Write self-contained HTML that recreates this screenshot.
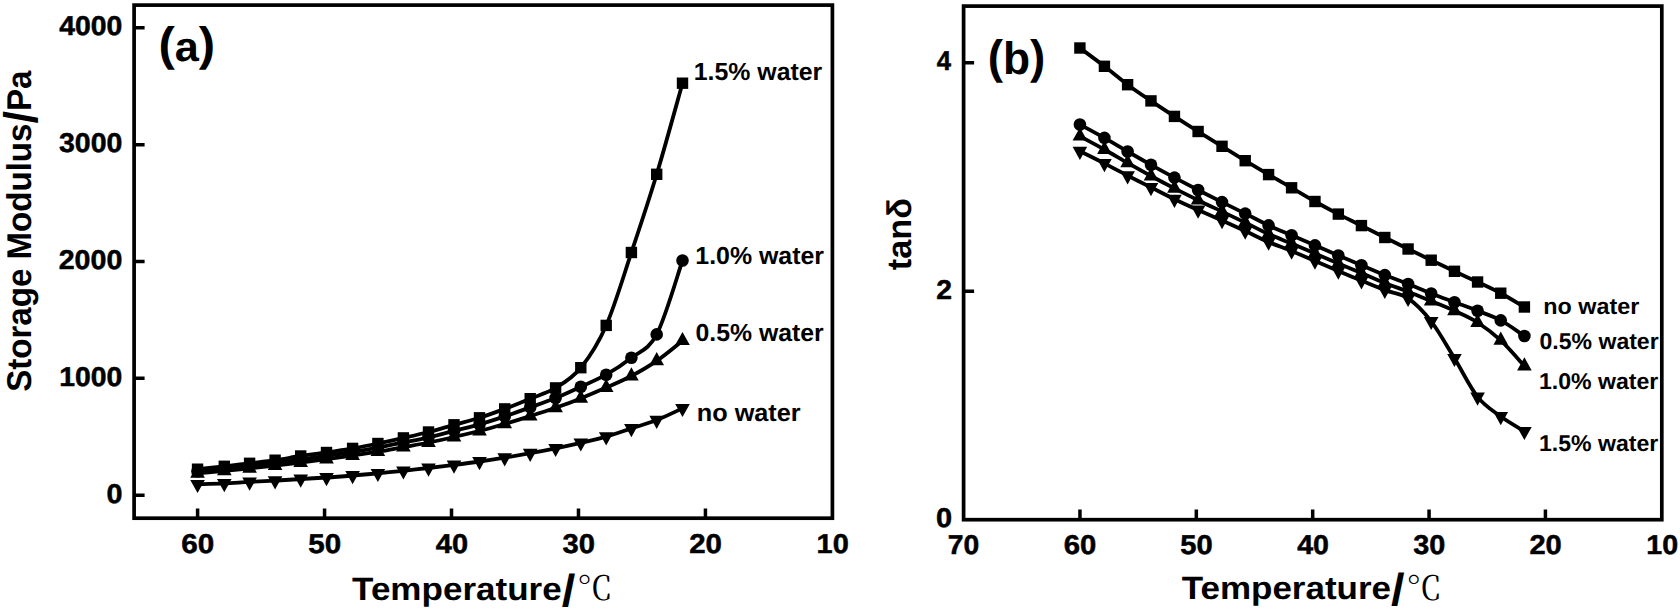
<!DOCTYPE html>
<html lang="en"><head><meta charset="utf-8"><title>Storage modulus and tan delta versus temperature</title>
<style>html,body{margin:0;padding:0;background:#fff}body{width:1680px;height:611px;overflow:hidden}svg{display:block}text{fill:#000;text-rendering:geometricPrecision}.fr{fill:none;stroke:#000;stroke-width:3.7}.tk{stroke:#000;stroke-width:3.5;fill:none}.s path.ln{fill:none;stroke:#000;stroke-width:3.8;stroke-linejoin:round;stroke-linecap:round}.s rect,.s circle,.s path{fill:#000}</style></head><body>
<svg width="1680" height="611" viewBox="0 0 1680 611" role="img" aria-label="Storage modulus and tan delta versus temperature">
<rect width="1680" height="611" fill="#fff"/>
<rect class="fr" x="134.1" y="5.1" width="698.3" height="513.1"/>
<rect class="fr" x="963.6" y="6.1" width="698.2" height="513.6"/>
<path class="tk" d="M134.1 495.2H144.6M134.1 378.35H144.6M134.1 261.5H144.6M134.1 144.65H144.6M134.1 27.8H144.6M197.6 518.2V508.4M324.56 518.2V508.4M451.52 518.2V508.4M578.48 518.2V508.4M705.44 518.2V508.4M963.6 291.25H974.1M963.6 62.8H974.1M1079.95 519.7V509.5M1196.32 519.7V509.5M1312.69 519.7V509.5M1429.06 519.7V509.5M1545.43 519.7V509.5"/>
<g class="s">
<g class="a1">
<path class="ln" d="M197.55 469.2C202.01 468.72 215.62 467.28 224.3 466.3C232.98 465.32 241.13 464.32 249.6 463.3C258.07 462.28 266.58 461.42 275.1 460.2C283.62 458.98 292.13 457.28 300.7 456C309.27 454.72 317.85 453.77 326.5 452.5C335.15 451.23 344.03 449.9 352.6 448.4C361.17 446.9 369.43 445.25 377.9 443.5C386.37 441.75 394.97 439.82 403.4 437.9C411.83 435.98 420.07 434.18 428.5 432C436.93 429.82 445.5 427.17 454 424.8C462.5 422.43 471.05 420.45 479.5 417.8C487.95 415.15 496.25 412.08 504.7 408.9C513.15 405.72 521.72 402.2 530.2 398.7C538.68 395.2 547.17 393.07 555.6 387.9C564.03 382.73 572.37 378.12 580.8 367.7C589.23 357.28 597.77 344.6 606.2 325.4C614.63 306.2 622.98 277.68 631.4 252.5C639.82 227.32 648.18 202.52 656.7 174.3C665.22 146.08 678.2 98.38 682.5 83.2"/>
<rect x="191.85" y="463.5" width="11.4" height="11.4"/>
<rect x="218.6" y="460.6" width="11.4" height="11.4"/>
<rect x="243.9" y="457.6" width="11.4" height="11.4"/>
<rect x="269.4" y="454.5" width="11.4" height="11.4"/>
<rect x="295" y="450.3" width="11.4" height="11.4"/>
<rect x="320.8" y="446.8" width="11.4" height="11.4"/>
<rect x="346.9" y="442.7" width="11.4" height="11.4"/>
<rect x="372.2" y="437.8" width="11.4" height="11.4"/>
<rect x="397.7" y="432.2" width="11.4" height="11.4"/>
<rect x="422.8" y="426.3" width="11.4" height="11.4"/>
<rect x="448.3" y="419.1" width="11.4" height="11.4"/>
<rect x="473.8" y="412.1" width="11.4" height="11.4"/>
<rect x="499" y="403.2" width="11.4" height="11.4"/>
<rect x="524.5" y="393" width="11.4" height="11.4"/>
<rect x="549.9" y="382.2" width="11.4" height="11.4"/>
<rect x="575.1" y="362" width="11.4" height="11.4"/>
<rect x="600.5" y="319.7" width="11.4" height="11.4"/>
<rect x="625.7" y="246.8" width="11.4" height="11.4"/>
<rect x="651" y="168.6" width="11.4" height="11.4"/>
<rect x="676.8" y="77.5" width="11.4" height="11.4"/>
</g>
<g class="a2">
<path class="ln" d="M197.55 471.2C202.01 470.77 215.62 469.48 224.3 468.6C232.98 467.72 241.13 466.85 249.6 465.9C258.07 464.95 266.58 464 275.1 462.9C283.62 461.8 292.13 460.48 300.7 459.3C309.27 458.12 317.85 457.02 326.5 455.8C335.15 454.58 344.03 453.37 352.6 452C361.17 450.63 369.43 449.18 377.9 447.6C386.37 446.02 394.97 444.22 403.4 442.5C411.83 440.78 420.07 439.23 428.5 437.3C436.93 435.37 445.5 433.05 454 430.9C462.5 428.75 471.05 426.82 479.5 424.4C487.95 421.98 496.25 419.23 504.7 416.4C513.15 413.57 521.72 410.47 530.2 407.4C538.68 404.33 547.17 401.45 555.6 398C564.03 394.55 572.37 390.58 580.8 386.7C589.23 382.82 597.77 379.52 606.2 374.7C614.63 369.88 622.98 364.52 631.4 357.8C639.82 351.08 648.18 350.62 656.7 334.4C665.22 318.18 678.2 272.82 682.5 260.5"/>
<circle cx="197.55" cy="471.2" r="6.3"/>
<circle cx="224.3" cy="468.6" r="6.3"/>
<circle cx="249.6" cy="465.9" r="6.3"/>
<circle cx="275.1" cy="462.9" r="6.3"/>
<circle cx="300.7" cy="459.3" r="6.3"/>
<circle cx="326.5" cy="455.8" r="6.3"/>
<circle cx="352.6" cy="452" r="6.3"/>
<circle cx="377.9" cy="447.6" r="6.3"/>
<circle cx="403.4" cy="442.5" r="6.3"/>
<circle cx="428.5" cy="437.3" r="6.3"/>
<circle cx="454" cy="430.9" r="6.3"/>
<circle cx="479.5" cy="424.4" r="6.3"/>
<circle cx="504.7" cy="416.4" r="6.3"/>
<circle cx="530.2" cy="407.4" r="6.3"/>
<circle cx="555.6" cy="398" r="6.3"/>
<circle cx="580.8" cy="386.7" r="6.3"/>
<circle cx="606.2" cy="374.7" r="6.3"/>
<circle cx="631.4" cy="357.8" r="6.3"/>
<circle cx="656.7" cy="334.4" r="6.3"/>
<circle cx="682.5" cy="260.5" r="6.3"/>
</g>
<g class="a3">
<path class="ln" d="M197.55 473.3C202.01 472.9 215.62 471.72 224.3 470.9C232.98 470.08 241.13 469.3 249.6 468.4C258.07 467.5 266.58 466.48 275.1 465.5C283.62 464.52 292.13 463.57 300.7 462.5C309.27 461.43 317.85 460.27 326.5 459.1C335.15 457.93 344.03 456.73 352.6 455.5C361.17 454.27 369.43 453.1 377.9 451.7C386.37 450.3 394.97 448.63 403.4 447.1C411.83 445.57 420.07 444.18 428.5 442.5C436.93 440.82 445.5 438.92 454 437C462.5 435.08 471.05 433.18 479.5 431C487.95 428.82 496.25 426.38 504.7 423.9C513.15 421.42 521.72 418.78 530.2 416.1C538.68 413.42 547.17 410.75 555.6 407.8C564.03 404.85 572.37 401.77 580.8 398.4C589.23 395.03 597.77 391.33 606.2 387.6C614.63 383.87 622.98 380.45 631.4 376C639.82 371.55 648.18 366.78 656.7 360.9C665.22 355.02 678.2 344.07 682.5 340.7"/>
<path d="M190.25 477.7L204.85 477.7L197.55 464.5Z"/>
<path d="M217 475.3L231.6 475.3L224.3 462.1Z"/>
<path d="M242.3 472.8L256.9 472.8L249.6 459.6Z"/>
<path d="M267.8 469.9L282.4 469.9L275.1 456.7Z"/>
<path d="M293.4 466.9L308 466.9L300.7 453.7Z"/>
<path d="M319.2 463.5L333.8 463.5L326.5 450.3Z"/>
<path d="M345.3 459.9L359.9 459.9L352.6 446.7Z"/>
<path d="M370.6 456.1L385.2 456.1L377.9 442.9Z"/>
<path d="M396.1 451.5L410.7 451.5L403.4 438.3Z"/>
<path d="M421.2 446.9L435.8 446.9L428.5 433.7Z"/>
<path d="M446.7 441.4L461.3 441.4L454 428.2Z"/>
<path d="M472.2 435.4L486.8 435.4L479.5 422.2Z"/>
<path d="M497.4 428.3L512 428.3L504.7 415.1Z"/>
<path d="M522.9 420.5L537.5 420.5L530.2 407.3Z"/>
<path d="M548.3 412.2L562.9 412.2L555.6 399Z"/>
<path d="M573.5 402.8L588.1 402.8L580.8 389.6Z"/>
<path d="M598.9 392L613.5 392L606.2 378.8Z"/>
<path d="M624.1 380.4L638.7 380.4L631.4 367.2Z"/>
<path d="M649.4 365.3L664 365.3L656.7 352.1Z"/>
<path d="M675.2 345.1L689.8 345.1L682.5 331.9Z"/>
</g>
<g class="a4">
<path class="ln" d="M197.55 484.3C202.01 484.15 215.62 483.8 224.3 483.4C232.98 483 241.13 482.35 249.6 481.9C258.07 481.45 266.58 481.18 275.1 480.7C283.62 480.22 292.13 479.53 300.7 479C309.27 478.47 317.85 478.08 326.5 477.5C335.15 476.92 344.03 476.2 352.6 475.5C361.17 474.8 369.43 474.08 377.9 473.3C386.37 472.52 394.97 471.68 403.4 470.8C411.83 469.92 420.07 468.98 428.5 468C436.93 467.02 445.5 465.98 454 464.9C462.5 463.82 471.05 462.72 479.5 461.5C487.95 460.28 496.25 458.98 504.7 457.6C513.15 456.22 521.72 454.75 530.2 453.2C538.68 451.65 547.17 450.03 555.6 448.3C564.03 446.57 572.37 444.73 580.8 442.8C589.23 440.87 597.77 439.1 606.2 436.7C614.63 434.3 622.98 431.17 631.4 428.4C639.82 425.63 648.18 423.45 656.7 420.1C665.22 416.75 678.2 410.27 682.5 408.3"/>
<path d="M190.25 479.9L204.85 479.9L197.55 493.1Z"/>
<path d="M217 479L231.6 479L224.3 492.2Z"/>
<path d="M242.3 477.5L256.9 477.5L249.6 490.7Z"/>
<path d="M267.8 476.3L282.4 476.3L275.1 489.5Z"/>
<path d="M293.4 474.6L308 474.6L300.7 487.8Z"/>
<path d="M319.2 473.1L333.8 473.1L326.5 486.3Z"/>
<path d="M345.3 471.1L359.9 471.1L352.6 484.3Z"/>
<path d="M370.6 468.9L385.2 468.9L377.9 482.1Z"/>
<path d="M396.1 466.4L410.7 466.4L403.4 479.6Z"/>
<path d="M421.2 463.6L435.8 463.6L428.5 476.8Z"/>
<path d="M446.7 460.5L461.3 460.5L454 473.7Z"/>
<path d="M472.2 457.1L486.8 457.1L479.5 470.3Z"/>
<path d="M497.4 453.2L512 453.2L504.7 466.4Z"/>
<path d="M522.9 448.8L537.5 448.8L530.2 462Z"/>
<path d="M548.3 443.9L562.9 443.9L555.6 457.1Z"/>
<path d="M573.5 438.4L588.1 438.4L580.8 451.6Z"/>
<path d="M598.9 432.3L613.5 432.3L606.2 445.5Z"/>
<path d="M624.1 424L638.7 424L631.4 437.2Z"/>
<path d="M649.4 415.7L664 415.7L656.7 428.9Z"/>
<path d="M675.2 403.9L689.8 403.9L682.5 417.1Z"/>
</g>
<g class="b1">
<path class="ln" d="M1079.9 48C1083.99 51.05 1096.47 60.18 1104.42 66.3C1112.37 72.42 1119.85 78.93 1127.61 84.7C1135.37 90.47 1143.18 95.62 1150.98 100.9C1158.79 106.18 1166.6 111.3 1174.45 116.4C1182.3 121.5 1190.17 126.52 1198.1 131.5C1206.03 136.48 1214.17 141.43 1222.02 146.3C1229.87 151.17 1237.45 155.98 1245.21 160.7C1252.97 165.42 1260.85 170.08 1268.58 174.6C1276.31 179.12 1283.86 183.32 1291.59 187.8C1299.32 192.28 1307.17 197.12 1314.96 201.5C1322.75 205.88 1330.59 210.08 1338.34 214.1C1346.08 218.12 1353.69 221.7 1361.43 225.6C1369.18 229.5 1377.03 233.6 1384.81 237.5C1392.58 241.4 1400.36 245.22 1408.09 249C1415.82 252.78 1423.46 256.48 1431.19 260.2C1438.92 263.92 1446.74 267.67 1454.47 271.3C1462.2 274.93 1469.85 278.35 1477.57 282C1485.28 285.65 1492.95 289.03 1500.76 293.2C1508.56 297.37 1520.46 304.7 1524.4 307"/>
<rect x="1074.2" y="42.3" width="11.4" height="11.4"/>
<rect x="1098.72" y="60.6" width="11.4" height="11.4"/>
<rect x="1121.91" y="79" width="11.4" height="11.4"/>
<rect x="1145.28" y="95.2" width="11.4" height="11.4"/>
<rect x="1168.75" y="110.7" width="11.4" height="11.4"/>
<rect x="1192.4" y="125.8" width="11.4" height="11.4"/>
<rect x="1216.32" y="140.6" width="11.4" height="11.4"/>
<rect x="1239.51" y="155" width="11.4" height="11.4"/>
<rect x="1262.88" y="168.9" width="11.4" height="11.4"/>
<rect x="1285.89" y="182.1" width="11.4" height="11.4"/>
<rect x="1309.26" y="195.8" width="11.4" height="11.4"/>
<rect x="1332.64" y="208.4" width="11.4" height="11.4"/>
<rect x="1355.73" y="219.9" width="11.4" height="11.4"/>
<rect x="1379.11" y="231.8" width="11.4" height="11.4"/>
<rect x="1402.39" y="243.3" width="11.4" height="11.4"/>
<rect x="1425.49" y="254.5" width="11.4" height="11.4"/>
<rect x="1448.77" y="265.6" width="11.4" height="11.4"/>
<rect x="1471.87" y="276.3" width="11.4" height="11.4"/>
<rect x="1495.06" y="287.5" width="11.4" height="11.4"/>
<rect x="1518.7" y="301.3" width="11.4" height="11.4"/>
</g>
<g class="b2">
<path class="ln" d="M1079.9 124.5C1083.99 126.73 1096.47 133.4 1104.42 137.9C1112.37 142.4 1119.85 147.02 1127.61 151.5C1135.37 155.98 1143.18 160.45 1150.98 164.8C1158.79 169.15 1166.6 173.4 1174.45 177.6C1182.3 181.8 1190.17 185.92 1198.1 190C1206.03 194.08 1214.17 198.17 1222.02 202.1C1229.87 206.03 1237.45 209.72 1245.21 213.6C1252.97 217.48 1260.85 221.78 1268.58 225.4C1276.31 229.02 1283.86 231.97 1291.59 235.3C1299.32 238.63 1307.17 242.03 1314.96 245.4C1322.75 248.77 1330.59 252.2 1338.34 255.5C1346.08 258.8 1353.69 261.93 1361.43 265.2C1369.18 268.47 1377.03 271.97 1384.81 275.1C1392.58 278.23 1400.36 280.93 1408.09 284C1415.82 287.07 1423.46 290.47 1431.19 293.5C1438.92 296.53 1446.74 299.32 1454.47 302.2C1462.2 305.08 1469.85 307.77 1477.57 310.8C1485.28 313.83 1492.95 316.2 1500.76 320.4C1508.56 324.6 1520.46 333.4 1524.4 336"/>
<circle cx="1079.9" cy="124.5" r="6.3"/>
<circle cx="1104.42" cy="137.9" r="6.3"/>
<circle cx="1127.61" cy="151.5" r="6.3"/>
<circle cx="1150.98" cy="164.8" r="6.3"/>
<circle cx="1174.45" cy="177.6" r="6.3"/>
<circle cx="1198.1" cy="190" r="6.3"/>
<circle cx="1222.02" cy="202.1" r="6.3"/>
<circle cx="1245.21" cy="213.6" r="6.3"/>
<circle cx="1268.58" cy="225.4" r="6.3"/>
<circle cx="1291.59" cy="235.3" r="6.3"/>
<circle cx="1314.96" cy="245.4" r="6.3"/>
<circle cx="1338.34" cy="255.5" r="6.3"/>
<circle cx="1361.43" cy="265.2" r="6.3"/>
<circle cx="1384.81" cy="275.1" r="6.3"/>
<circle cx="1408.09" cy="284" r="6.3"/>
<circle cx="1431.19" cy="293.5" r="6.3"/>
<circle cx="1454.47" cy="302.2" r="6.3"/>
<circle cx="1477.57" cy="310.8" r="6.3"/>
<circle cx="1500.76" cy="320.4" r="6.3"/>
<circle cx="1524.4" cy="336" r="6.3"/>
</g>
<g class="b3">
<path class="ln" d="M1079.9 136.2C1083.99 138.42 1096.47 145.05 1104.42 149.5C1112.37 153.95 1119.85 158.48 1127.61 162.9C1135.37 167.32 1143.18 171.75 1150.98 176C1158.79 180.25 1166.6 184.37 1174.45 188.4C1182.3 192.43 1190.17 196.33 1198.1 200.2C1206.03 204.07 1214.17 207.87 1222.02 211.6C1229.87 215.33 1237.45 218.87 1245.21 222.6C1252.97 226.33 1260.85 230.5 1268.58 234C1276.31 237.5 1283.86 240.35 1291.59 243.6C1299.32 246.85 1307.17 250.18 1314.96 253.5C1322.75 256.82 1330.59 260.23 1338.34 263.5C1346.08 266.77 1353.69 269.87 1361.43 273.1C1369.18 276.33 1377.03 279.8 1384.81 282.9C1392.58 286 1400.36 288.67 1408.09 291.7C1415.82 294.73 1423.46 297.92 1431.19 301.1C1438.92 304.28 1446.74 307.23 1454.47 310.8C1462.2 314.37 1469.85 317.57 1477.57 322.5C1485.28 327.43 1492.95 333.15 1500.76 340.4C1508.56 347.65 1520.46 361.73 1524.4 366"/>
<path d="M1072.6 140.6L1087.2 140.6L1079.9 127.4Z"/>
<path d="M1097.12 153.9L1111.72 153.9L1104.42 140.7Z"/>
<path d="M1120.31 167.3L1134.91 167.3L1127.61 154.1Z"/>
<path d="M1143.68 180.4L1158.28 180.4L1150.98 167.2Z"/>
<path d="M1167.15 192.8L1181.75 192.8L1174.45 179.6Z"/>
<path d="M1190.8 204.6L1205.4 204.6L1198.1 191.4Z"/>
<path d="M1214.72 216L1229.32 216L1222.02 202.8Z"/>
<path d="M1237.91 227L1252.51 227L1245.21 213.8Z"/>
<path d="M1261.28 238.4L1275.88 238.4L1268.58 225.2Z"/>
<path d="M1284.29 248L1298.89 248L1291.59 234.8Z"/>
<path d="M1307.66 257.9L1322.26 257.9L1314.96 244.7Z"/>
<path d="M1331.04 267.9L1345.64 267.9L1338.34 254.7Z"/>
<path d="M1354.13 277.5L1368.73 277.5L1361.43 264.3Z"/>
<path d="M1377.51 287.3L1392.11 287.3L1384.81 274.1Z"/>
<path d="M1400.79 296.1L1415.39 296.1L1408.09 282.9Z"/>
<path d="M1423.89 305.5L1438.49 305.5L1431.19 292.3Z"/>
<path d="M1447.17 315.2L1461.77 315.2L1454.47 302Z"/>
<path d="M1470.27 326.9L1484.87 326.9L1477.57 313.7Z"/>
<path d="M1493.46 344.8L1508.06 344.8L1500.76 331.6Z"/>
<path d="M1517.1 370.4L1531.7 370.4L1524.4 357.2Z"/>
</g>
<g class="b4">
<path class="ln" d="M1079.9 151.2C1083.99 153.23 1096.47 159.33 1104.42 163.4C1112.37 167.47 1119.85 171.6 1127.61 175.6C1135.37 179.6 1143.18 183.47 1150.98 187.4C1158.79 191.33 1166.6 195.43 1174.45 199.2C1182.3 202.97 1190.17 206.45 1198.1 210C1206.03 213.55 1214.17 217 1222.02 220.5C1229.87 224 1237.45 227.42 1245.21 231C1252.97 234.58 1260.85 238.67 1268.58 242C1276.31 245.33 1283.86 247.83 1291.59 251C1299.32 254.17 1307.17 257.67 1314.96 261C1322.75 264.33 1330.59 267.73 1338.34 271C1346.08 274.27 1353.69 277.42 1361.43 280.6C1369.18 283.78 1377.03 287.15 1384.81 290.1C1392.58 293.05 1400.36 293.1 1408.09 298.3C1415.82 303.5 1423.46 311.3 1431.19 321.3C1438.92 331.3 1446.74 345.7 1454.47 358.3C1462.2 370.9 1469.85 387.2 1477.57 396.9C1485.28 406.6 1492.95 410.77 1500.76 416.5C1508.56 422.23 1520.46 428.83 1524.4 431.3"/>
<path d="M1072.6 146.8L1087.2 146.8L1079.9 160Z"/>
<path d="M1097.12 159L1111.72 159L1104.42 172.2Z"/>
<path d="M1120.31 171.2L1134.91 171.2L1127.61 184.4Z"/>
<path d="M1143.68 183L1158.28 183L1150.98 196.2Z"/>
<path d="M1167.15 194.8L1181.75 194.8L1174.45 208Z"/>
<path d="M1190.8 205.6L1205.4 205.6L1198.1 218.8Z"/>
<path d="M1214.72 216.1L1229.32 216.1L1222.02 229.3Z"/>
<path d="M1237.91 226.6L1252.51 226.6L1245.21 239.8Z"/>
<path d="M1261.28 237.6L1275.88 237.6L1268.58 250.8Z"/>
<path d="M1284.29 246.6L1298.89 246.6L1291.59 259.8Z"/>
<path d="M1307.66 256.6L1322.26 256.6L1314.96 269.8Z"/>
<path d="M1331.04 266.6L1345.64 266.6L1338.34 279.8Z"/>
<path d="M1354.13 276.2L1368.73 276.2L1361.43 289.4Z"/>
<path d="M1377.51 285.7L1392.11 285.7L1384.81 298.9Z"/>
<path d="M1400.79 293.9L1415.39 293.9L1408.09 307.1Z"/>
<path d="M1423.89 316.9L1438.49 316.9L1431.19 330.1Z"/>
<path d="M1447.17 353.9L1461.77 353.9L1454.47 367.1Z"/>
<path d="M1470.27 392.5L1484.87 392.5L1477.57 405.7Z"/>
<path d="M1493.46 412.1L1508.06 412.1L1500.76 425.3Z"/>
<path d="M1517.1 426.9L1531.7 426.9L1524.4 440.1Z"/>
</g>
</g>
<text id="ly0" transform="translate(106.5 502.8) scale(1.0591 1)" style="font-family:'Liberation Sans', sans-serif;font-weight:bold;font-size:27.1px;stroke:#000;stroke-width:0.5;stroke-linejoin:round">0</text>
<text id="ly1000" transform="translate(59.29 385.95) scale(1.0455 1)" style="font-family:'Liberation Sans', sans-serif;font-weight:bold;font-size:27.1px;stroke:#000;stroke-width:0.5;stroke-linejoin:round">1000</text>
<text id="ly2000" transform="translate(58.72 269.1) scale(1.0551 1)" style="font-family:'Liberation Sans', sans-serif;font-weight:bold;font-size:27.1px;stroke:#000;stroke-width:0.5;stroke-linejoin:round">2000</text>
<text id="ly3000" transform="translate(58.99 152.25) scale(1.0504 1)" style="font-family:'Liberation Sans', sans-serif;font-weight:bold;font-size:27.1px;stroke:#000;stroke-width:0.5;stroke-linejoin:round">3000</text>
<text id="ly4000" transform="translate(59.22 35.4) scale(1.0467 1)" style="font-family:'Liberation Sans', sans-serif;font-weight:bold;font-size:27.1px;stroke:#000;stroke-width:0.5;stroke-linejoin:round">4000</text>
<text id="lx60" transform="translate(181.21 553.1) scale(1.0934 1)" style="font-family:'Liberation Sans', sans-serif;font-weight:bold;font-size:27.1px;stroke:#000;stroke-width:0.5;stroke-linejoin:round">60</text>
<text id="lx50" transform="translate(308.28 553.1) scale(1.0896 1)" style="font-family:'Liberation Sans', sans-serif;font-weight:bold;font-size:27.1px;stroke:#000;stroke-width:0.5;stroke-linejoin:round">50</text>
<text id="lx40" transform="translate(435.83 553.1) scale(1.0694 1)" style="font-family:'Liberation Sans', sans-serif;font-weight:bold;font-size:27.1px;stroke:#000;stroke-width:0.5;stroke-linejoin:round">40</text>
<text id="lx30" transform="translate(562.56 553.1) scale(1.0773 1)" style="font-family:'Liberation Sans', sans-serif;font-weight:bold;font-size:27.1px;stroke:#000;stroke-width:0.5;stroke-linejoin:round">30</text>
<text id="lx20" transform="translate(689.24 553.1) scale(1.0870 1)" style="font-family:'Liberation Sans', sans-serif;font-weight:bold;font-size:27.1px;stroke:#000;stroke-width:0.5;stroke-linejoin:round">20</text>
<text id="lx10" transform="translate(816.56 553.1) scale(1.0679 1)" style="font-family:'Liberation Sans', sans-serif;font-weight:bold;font-size:27.1px;stroke:#000;stroke-width:0.5;stroke-linejoin:round">10</text>
<text id="lxl" transform="translate(352.09 599.6) scale(1.0883 1)" style="font-family:'Liberation Sans', sans-serif;font-weight:bold;font-size:32.2px">Temperature<tspan font-size="45" dy="6">/</tspan><tspan dy="-5.8" dx="1.5" font-size="33" style="font-family:&quot;Liberation Serif&quot;,&quot;Noto Serif CJK SC&quot;,serif;font-weight:normal">℃</tspan></text>
<text id="la" transform="translate(158.42 61) scale(1.0434 1)" style="font-family:'Liberation Sans', sans-serif;font-weight:bold;font-size:46px"><tspan font-size="47" dy="-1.2">(</tspan><tspan font-size="41.5" dy="1.2">a</tspan><tspan font-size="47" dy="-1.2">)</tspan></text>
<text id="ll1" transform="translate(693.73 80.2) scale(1.0109 1)" style="font-family:'Liberation Sans', sans-serif;font-weight:bold;font-size:24.6px">1.5% water</text>
<text id="ll2" transform="translate(695.33 263.9) scale(1.0125 1)" style="font-family:'Liberation Sans', sans-serif;font-weight:bold;font-size:24.6px">1.0% water</text>
<text id="ll3" transform="translate(695.51 340.7) scale(1.0079 1)" style="font-family:'Liberation Sans', sans-serif;font-weight:bold;font-size:24.6px">0.5% water</text>
<text id="ll4" transform="translate(696.79 420.7) scale(1.0270 1)" style="font-family:'Liberation Sans', sans-serif;font-weight:bold;font-size:24.6px">no water</text>
<text id="lyl" transform="rotate(-90) translate(-391.77 31.1) scale(0.9615 1)" style="font-family:'Liberation Sans', sans-serif;font-weight:bold;font-size:34.4px">Storage Modulus<tspan font-size="47" dy="5.4">/</tspan><tspan dy="-5.4">Pa</tspan></text>
<text id="ry0" transform="translate(936.09 527.2) scale(1.0666 1)" style="font-family:'Liberation Sans', sans-serif;font-weight:bold;font-size:27.1px;stroke:#000;stroke-width:0.5;stroke-linejoin:round">0</text>
<text id="ry2" transform="translate(936.32 298.75) scale(1.0450 1)" style="font-family:'Liberation Sans', sans-serif;font-weight:bold;font-size:27.1px;stroke:#000;stroke-width:0.5;stroke-linejoin:round">2</text>
<text id="ry4" transform="translate(936.83 70.3) scale(0.9469 1)" style="font-family:'Liberation Sans', sans-serif;font-weight:bold;font-size:27.1px;stroke:#000;stroke-width:0.5;stroke-linejoin:round">4</text>
<text id="rx70" transform="translate(947.84 553.9) scale(1.0445 1)" style="font-family:'Liberation Sans', sans-serif;font-weight:bold;font-size:27.1px;stroke:#000;stroke-width:0.5;stroke-linejoin:round">70</text>
<text id="rx60" transform="translate(1063.77 553.9) scale(1.0793 1)" style="font-family:'Liberation Sans', sans-serif;font-weight:bold;font-size:27.1px;stroke:#000;stroke-width:0.5;stroke-linejoin:round">60</text>
<text id="rx50" transform="translate(1180.25 553.9) scale(1.0755 1)" style="font-family:'Liberation Sans', sans-serif;font-weight:bold;font-size:27.1px;stroke:#000;stroke-width:0.5;stroke-linejoin:round">50</text>
<text id="rx40" transform="translate(1297.2 553.9) scale(1.0556 1)" style="font-family:'Liberation Sans', sans-serif;font-weight:bold;font-size:27.1px;stroke:#000;stroke-width:0.5;stroke-linejoin:round">40</text>
<text id="rx30" transform="translate(1413.35 553.9) scale(1.0634 1)" style="font-family:'Liberation Sans', sans-serif;font-weight:bold;font-size:27.1px;stroke:#000;stroke-width:0.5;stroke-linejoin:round">30</text>
<text id="rx20" transform="translate(1529.44 553.9) scale(1.0730 1)" style="font-family:'Liberation Sans', sans-serif;font-weight:bold;font-size:27.1px;stroke:#000;stroke-width:0.5;stroke-linejoin:round">20</text>
<text id="rx10" transform="translate(1646.27 553.9) scale(1.0571 1)" style="font-family:'Liberation Sans', sans-serif;font-weight:bold;font-size:27.1px;stroke:#000;stroke-width:0.5;stroke-linejoin:round">10</text>
<text id="rxl" transform="translate(1181.7 599.3) scale(1.0870 1)" style="font-family:'Liberation Sans', sans-serif;font-weight:bold;font-size:32.2px">Temperature<tspan font-size="45" dy="6">/</tspan><tspan dy="-5.8" dx="1.5" font-size="33" style="font-family:&quot;Liberation Serif&quot;,&quot;Noto Serif CJK SC&quot;,serif;font-weight:normal">℃</tspan></text>
<text id="rb" transform="translate(987.68 73.7) scale(0.9746 1)" style="font-family:'Liberation Sans', sans-serif;font-weight:bold;font-size:46px"><tspan font-size="47" dy="-0.8">(</tspan><tspan font-size="45.5" dy="0.8">b</tspan><tspan font-size="47" dy="-0.8">)</tspan></text>
<text id="rl1" transform="translate(1543.32 313.6) scale(1.0236 1)" style="font-family:'Liberation Sans', sans-serif;font-weight:bold;font-size:22.8px">no water</text>
<text id="rl2" transform="translate(1539.56 348.9) scale(1.0104 1)" style="font-family:'Liberation Sans', sans-serif;font-weight:bold;font-size:22.8px">0.5% water</text>
<text id="rl3" transform="translate(1538.94 389.4) scale(1.0123 1)" style="font-family:'Liberation Sans', sans-serif;font-weight:bold;font-size:22.8px">1.0% water</text>
<text id="rl4" transform="translate(1538.94 451) scale(1.0123 1)" style="font-family:'Liberation Sans', sans-serif;font-weight:bold;font-size:22.8px">1.5% water</text>
<text id="ryl" transform="rotate(-90) translate(-270.24 911.4) scale(1.0034 1)" style="font-family:'Liberation Sans', sans-serif;font-weight:bold;font-size:34.2px">tanδ</text>
</svg></body></html>
